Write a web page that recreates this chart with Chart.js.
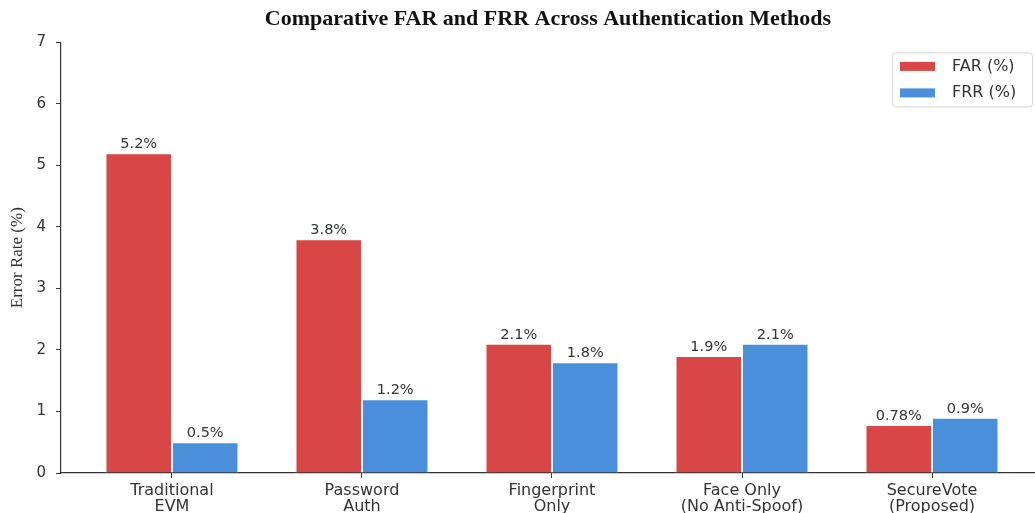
<!DOCTYPE html>
<html lang="en">
<head>
    <meta charset="UTF-8">
    <title>Comparative FAR and FRR Across Authentication Methods</title>
    <script src="https://cdn.jsdelivr.net/npm/chart.js"></script>
    <style>
        html, body {
            margin: 0;
            padding: 0;
            background: #ffffff;
        }
        #wrap {
            width: 1035px;
            height: 513px;
        }
    </style>
</head>
<body>
    <div id="wrap"><canvas id="rateChart"></canvas></div>

    <script>
        // chart data
        const CATEGORIES = [
            ['Traditional', 'EVM'],
            ['Password', 'Auth'],
            ['Fingerprint', 'Only'],
            ['Face Only', '(No Anti-Spoof)'],
            ['SecureVote', '(Proposed)']
        ];
        const FAR = [5.2, 3.8, 2.1, 1.9, 0.78];
        const FRR = [0.5, 1.2, 1.8, 2.1, 0.9];
        const SERIES_NAMES = ['FAR (%)', 'FRR (%)'];
        const Y_TICKS = [0, 1, 2, 3, 4, 5, 6, 7];

        const RED = '#d84646';
        const BLUE = '#4a8fd9';
        const TEXT = '#333333';

        // value labels on top of each bar
        const barLabels = {
            id: 'barLabels',
            afterDatasetsDraw(chart) {
                const ctx = chart.ctx;
                ctx.save();
                ctx.font = '14.5px "DejaVu Sans"';
                ctx.fillStyle = TEXT;
                ctx.textAlign = 'center';
                ctx.textBaseline = 'alphabetic';
                chart.data.datasets.forEach((ds, i) => {
                    chart.getDatasetMeta(i).data.forEach((bar, j) => {
                        ctx.fillText(ds.data[j].y + '%', bar.x, bar.y - 5);
                    });
                });
                ctx.restore();
            }
        };

        // boxed legend in the top right corner of the plot
        const boxLegend = {
            id: 'boxLegend',
            afterDraw(chart) {
                const ctx = chart.ctx;
                const area = chart.chartArea;
                const w = 140, h = 54;
                const x = area.right - 3 - w;
                const y = area.top + 10;
                ctx.save();
                ctx.fillStyle = 'rgba(255,255,255,0.85)';
                ctx.strokeStyle = '#d6d6d6';
                ctx.lineWidth = 1;
                ctx.beginPath();
                ctx.roundRect(x + 0.5, y + 0.5, w, h, 3);
                ctx.fill();
                ctx.stroke();
                ctx.font = '16px "DejaVu Sans"';
                ctx.textBaseline = 'middle';
                ctx.textAlign = 'left';
                chart.data.datasets.forEach((ds, i) => {
                    const cy = y + 14 + i * 26.5;
                    ctx.fillStyle = ds.backgroundColor;
                    ctx.fillRect(x + 8, cy - 4.5, 35, 9);
                    ctx.fillStyle = TEXT;
                    ctx.fillText(ds.label, x + 60, cy);
                });
                ctx.restore();
            }
        };

        new Chart(document.getElementById('rateChart').getContext('2d'), {
            type: 'bar',
            data: {
                datasets: [
                    {
                        label: SERIES_NAMES[0],
                        data: FAR.map((v, i) => ({ x: i, y: v })),
                        backgroundColor: RED,
                        borderColor: '#ffffff',
                        borderWidth: 1
                    },
                    {
                        label: SERIES_NAMES[1],
                        data: FRR.map((v, i) => ({ x: i, y: v })),
                        backgroundColor: BLUE,
                        borderColor: '#ffffff',
                        borderWidth: 1
                    }
                ]
            },
            options: {
                responsive: true,
                maintainAspectRatio: false,
                animation: false,
                categoryPercentage: 0.7,
                barPercentage: 1.0,
                layout: { padding: 0 },
                scales: {
                    x: {
                        type: 'linear',
                        offset: false,
                        min: -0.584,
                        max: 4.542,
                        afterBuildTicks: scale => {
                            scale.ticks = CATEGORIES.map((c, i) => ({ value: i }));
                        },
                        afterFit: scale => { scale.height = 40; },
                        grid: { display: true, offset: false, drawOnChartArea: false, drawTicks: true, tickLength: 5, color: TEXT },
                        border: { display: true, color: TEXT, width: 1.2 },
                        ticks: {
                            padding: 5,
                            maxRotation: 0,
                            autoSkip: false,
                            color: TEXT,
                            font: { family: 'DejaVu Sans', size: 16, lineHeight: 1.0 },
                            callback: value => CATEGORIES[value]
                        }
                    },
                    y: {
                        min: 0,
                        max: 7,
                        afterBuildTicks: scale => {
                            scale.ticks = Y_TICKS.map(v => ({ value: v }));
                        },
                        afterFit: scale => { scale.width = 61; },
                        grid: { display: true, drawOnChartArea: false, drawTicks: true, tickLength: 5, color: TEXT },
                        border: { display: true, color: TEXT, width: 1.2 },
                        ticks: {
                            padding: 10,
                            color: TEXT,
                            font: { family: 'DejaVu Sans', size: 15 }
                        },
                        title: {
                            display: true,
                            text: 'Error Rate (%)',
                            color: TEXT,
                            padding: { top: 7, bottom: 0 },
                            font: { family: 'Liberation Serif', size: 17 }
                        }
                    }
                },
                plugins: {
                    legend: { display: false },
                    tooltip: { enabled: false },
                    title: {
                        display: true,
                        fullSize: false,
                        text: 'Comparative FAR and FRR Across Authentication Methods',
                        color: '#111111',
                        padding: { top: 6, bottom: 10 },
                        font: { family: 'Liberation Serif', size: 22, weight: 'bold', lineHeight: 1.2 }
                    }
                }
            },
            plugins: [barLabels, boxLegend]
        });
    </script>
</body>
</html>
